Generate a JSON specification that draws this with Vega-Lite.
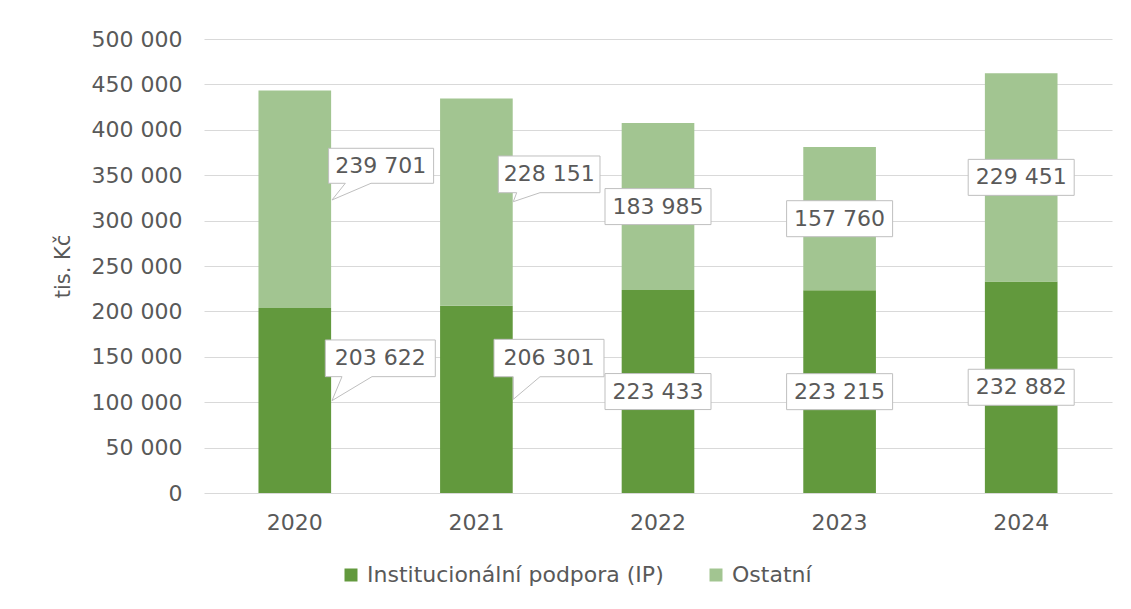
{
  "$schema": "https://vega.github.io/schema/vega-lite/v6.json",
  "width": 908,
  "height": 454,
  "autosize": {"type": "none"},
  "padding": {"left": 204, "top": 39, "right": 19, "bottom": 116},
  "background": "white",
  "config": {
    "locale": {"number": {"decimal": ",", "thousands": " ", "grouping": [3], "currency": ["", ""]}},
    "font": "DejaVu Sans",
    "view": {"stroke": null},
    "axis": {
      "labelFont": "DejaVu Sans",
      "labelFontSize": 22,
      "labelColor": "#595959",
      "titleFont": "DejaVu Sans",
      "titleFontSize": 21,
      "titleColor": "#595959",
      "titleFontWeight": "normal",
      "domain": false,
      "ticks": false,
      "gridColor": "#d9d9d9",
      "gridWidth": 1
    },
    "legend": {
      "labelFont": "DejaVu Sans",
      "labelFontSize": 22,
      "labelColor": "#595959"
    }
  },
  "data": {
    "values": [
      {"year": 2020, "series": "Institucionální podpora (IP)", "value": 203622},
      {"year": 2020, "series": "Ostatní", "value": 239701},
      {"year": 2021, "series": "Institucionální podpora (IP)", "value": 206301},
      {"year": 2021, "series": "Ostatní", "value": 228151},
      {"year": 2022, "series": "Institucionální podpora (IP)", "value": 223433},
      {"year": 2022, "series": "Ostatní", "value": 183985},
      {"year": 2023, "series": "Institucionální podpora (IP)", "value": 223215},
      {"year": 2023, "series": "Ostatní", "value": 157760},
      {"year": 2024, "series": "Institucionální podpora (IP)", "value": 232882},
      {"year": 2024, "series": "Ostatní", "value": 229451}
    ]
  },
  "layer": [
    {
      "mark": {"type": "bar"},
      "encoding": {
        "x": {
          "field": "year", "type": "ordinal", "title": null,
          "scale": {"paddingInner": 0.6, "paddingOuter": 0.3},
          "axis": {"labelAngle": 0, "labelPadding": 19, "grid": false}
        },
        "y": {
          "field": "value", "type": "quantitative", "title": "tis. Kč",
          "scale": {"domain": [0, 500000], "nice": false},
          "axis": {
            "values": [0, 50000, 100000, 150000, 200000, 250000, 300000, 350000, 400000, 450000, 500000],
            "format": ",d",
            "labelPadding": 22,
            "titleX": -141,
            "titleY": 227,
            "titleAlign": "center",
            "titleBaseline": "middle",
            "titleAngle": -90
          }
        },
        "color": {
          "field": "series", "type": "nominal",
          "scale": {"domain": ["Institucionální podpora (IP)", "Ostatní"], "range": ["#62993D", "#A2C591"]},
          "legend": {
            "title": null, "orient": "none", "legendX": 136, "legendY": 525,
            "direction": "horizontal", "symbolType": "square", "symbolSize": 169,
            "symbolStrokeWidth": 0, "labelOffset": 5, "columnPadding": 41, "labelLimit": 600
          }
        },
        "order": {"field": "series", "sort": "ascending"}
      }
    },
    {
      "transform": [
        {"stack": "value", "groupby": ["year"], "sort": [{"field": "series", "order": "ascending"}], "as": ["v0", "v1"]},
        {"calculate": "(datum.v0 + datum.v1) / 2", "as": "mid"}
      ],
      "encoding": {
        "x": {"field": "year", "type": "ordinal", "title": null},
        "y": {"field": "mid", "type": "quantitative", "title": "tis. Kč"}
      },
      "layer": [
        {
          "transform": [{"filter": "datum.year >= 2022"}],
          "mark": {"type": "point", "shape": "M-53,-18H53V18H-53Z", "size": 4, "filled": true, "fill": "white", "stroke": "#bfbfbf", "strokeWidth": 1, "opacity": 1}
        },
        {
          "transform": [{"filter": "datum.year >= 2022"}],
          "mark": {"type": "text", "fontSize": 22, "color": "#595959", "baseline": "middle", "align": "center"},
          "encoding": {"text": {"field": "value", "type": "quantitative", "format": ",d"}}
        },
        {
          "transform": [{"filter": "datum.year == 2020 && datum.series == 'Ostatní'"}],
          "mark": {"type": "point", "shape": "M33.8,-51H138.8V-16H76.2L37.2,0.7L50.5,-16H33.8Z", "size": 4, "filled": true, "fill": "white", "stroke": "#bfbfbf", "strokeWidth": 1, "opacity": 1}
        },
        {
          "transform": [{"filter": "datum.year == 2020 && datum.series == 'Ostatní'"}],
          "mark": {"type": "text", "fontSize": 22, "color": "#595959", "baseline": "middle", "align": "center", "dx": 86, "dy": -33.5},
          "encoding": {"text": {"field": "value", "type": "quantitative", "format": ",d"}}
        },
        {
          "transform": [{"filter": "datum.year == 2020 && datum.series != 'Ostatní'"}],
          "mark": {"type": "point", "shape": "M30.5,-60.6H140.5V-23.9H77.2L37.2,0.1L47.2,-23.9H30.5Z", "size": 4, "filled": true, "fill": "white", "stroke": "#bfbfbf", "strokeWidth": 1, "opacity": 1}
        },
        {
          "transform": [{"filter": "datum.year == 2020 && datum.series != 'Ostatní'"}],
          "mark": {"type": "text", "fontSize": 22, "color": "#595959", "baseline": "middle", "align": "center", "dx": 85.5, "dy": -42.2},
          "encoding": {"text": {"field": "value", "type": "quantitative", "format": ",d"}}
        },
        {
          "transform": [{"filter": "datum.year == 2021 && datum.series == 'Ostatní'"}],
          "mark": {"type": "point", "shape": "M21.9,-46.1H123.6V-9.4H63.6L36.9,-0.4L40.3,-9.4H21.9Z", "size": 4, "filled": true, "fill": "white", "stroke": "#bfbfbf", "strokeWidth": 1, "opacity": 1}
        },
        {
          "transform": [{"filter": "datum.year == 2021 && datum.series == 'Ostatní'"}],
          "mark": {"type": "text", "fontSize": 22, "color": "#595959", "baseline": "middle", "align": "center", "dx": 72.8, "dy": -27.7},
          "encoding": {"text": {"field": "value", "type": "quantitative", "format": ",d"}}
        },
        {
          "transform": [{"filter": "datum.year == 2021 && datum.series != 'Ostatní'"}],
          "mark": {"type": "point", "shape": "M17.6,-60H127.6V-22.6H63.6L36.9,0L36.9,-22.6H17.6Z", "size": 4, "filled": true, "fill": "white", "stroke": "#bfbfbf", "strokeWidth": 1, "opacity": 1}
        },
        {
          "transform": [{"filter": "datum.year == 2021 && datum.series != 'Ostatní'"}],
          "mark": {"type": "text", "fontSize": 22, "color": "#595959", "baseline": "middle", "align": "center", "dx": 72.6, "dy": -41.3},
          "encoding": {"text": {"field": "value", "type": "quantitative", "format": ",d"}}
        }
      ]
    }
  ]
}
